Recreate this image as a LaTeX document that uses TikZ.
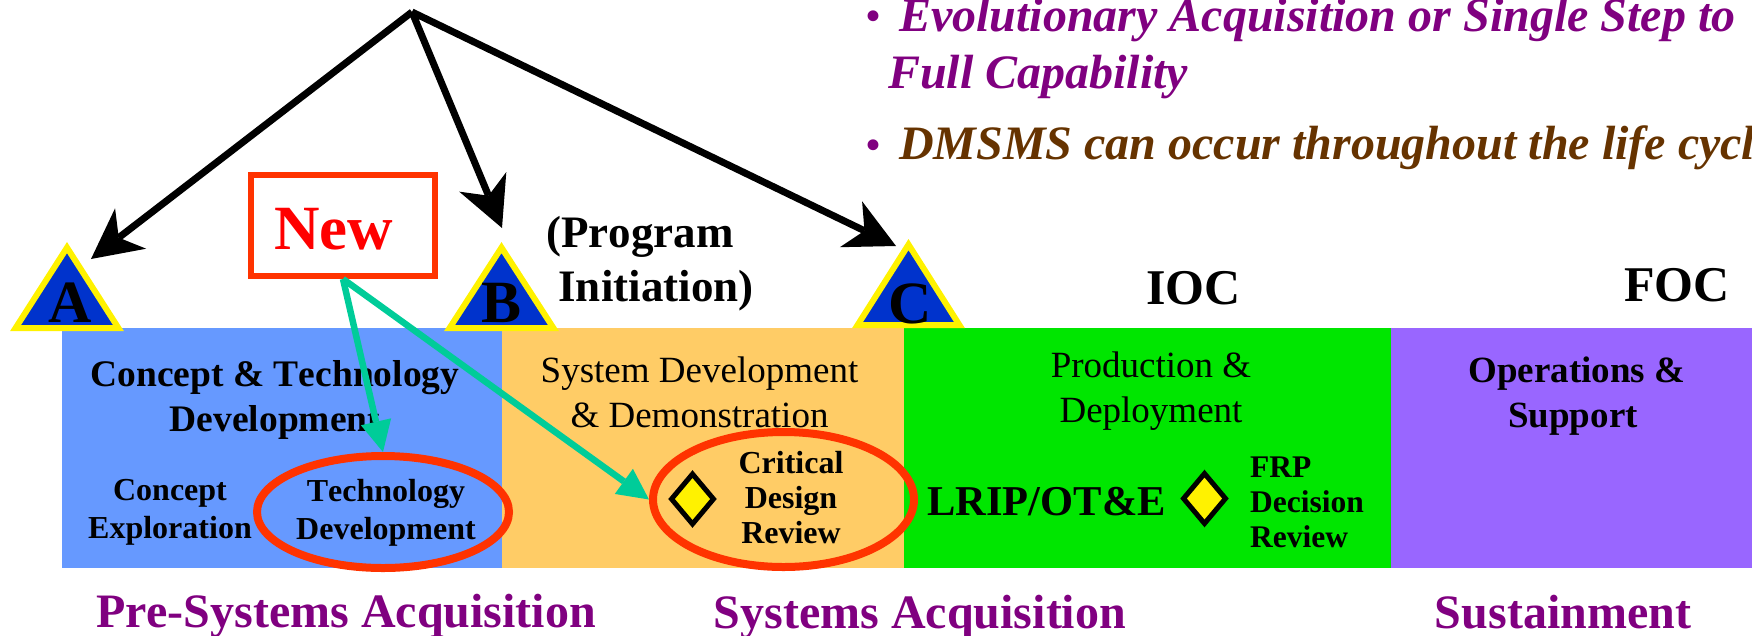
\documentclass[tikz,border=0pt]{standalone}
\usepackage{fontspec}
\setmainfont[Kerning=Off]{Liberation Serif}
\usetikzlibrary{arrows.meta,shapes.geometric}
\definecolor{cBlue}{HTML}{6699FF}
\definecolor{cOrange}{HTML}{FFCC66}
\definecolor{cGreen}{HTML}{00E600}
\definecolor{cViolet}{HTML}{9966FF}
\definecolor{cRed}{HTML}{FF3300}
\definecolor{cTeal}{HTML}{00CC99}
\definecolor{cPurple}{HTML}{800080}
\definecolor{cBrown}{HTML}{663300}
\definecolor{cTri}{HTML}{0033CC}
\newcommand{\sz}[2]{\fontsize{#1}{#2}\selectfont}
\tikzset{
  phase/.style={anchor=north west,inner sep=0pt,outer sep=0pt,fill=#1,minimum height=240pt},
  txt/.style={anchor=base,inner sep=0pt,outer sep=0pt,align=center},
  tri/.style={draw=yellow,fill=cTri,line width=6pt,miter limit=10},
  blackarrow/.style={line width=7pt,draw=black,-{Stealth[length=50pt,width=51pt,inset=15pt,line width=0pt]}},
  tealarrow/.style={line width=6.5pt,draw=cTeal,-{Triangle[length=31pt,width=31pt,line width=0pt]}},
  redring/.style={ellipse,draw=cRed,line width=8pt,inner sep=0pt},
  gem/.style={diamond,draw=black,fill=yellow,line width=5pt,inner sep=0pt,minimum width=44pt,minimum height=52pt}
}
\begin{document}
\begin{tikzpicture}[x=1pt,y=-1pt]
\useasboundingbox (0,0) rectangle (1752,635);
% phase bars
\node[phase=cBlue,minimum width=440pt] (p1) at (62,328) {};
\node[phase=cOrange,minimum width=402pt] (p2) at (502,328) {};
\node[phase=cGreen,minimum width=487pt] (p3) at (904,328) {};
\node[phase=cViolet,minimum width=361pt] (p4) at (1391,328) {};
% milestone triangles
\draw[tri] (67,247.6) -- (15.6,328) -- (118.4,328) -- cycle;
\draw[tri] (501.5,247.6) -- (449.6,328) -- (553.4,328) -- cycle;
\draw[tri] (908.5,244.6) -- (857.6,325) -- (959.4,325) -- cycle;
\node[txt,font=\sz{60}{60}\bfseries] (la) at (70,322) {A};
\node[txt,font=\sz{60}{60}\bfseries] (lb) at (502,322) {B};
\node[txt,font=\sz{60}{60}\bfseries] (lc) at (910,323) {C};
% top arrows
\coordinate (top) at (412,12);
\coordinate (tipA) at (91,259);
\coordinate (tipB) at (502,228);
\coordinate (tipC) at (896,246);
\draw[blackarrow] (top) -- (tipA);
\draw[blackarrow] (top) -- (tipB);
\draw[blackarrow] (top) -- (tipC);
% labels above bars
\node[txt,font=\sz{45}{45}\bfseries] (prog) at (640,247) {(Program};
\node[txt,font=\sz{45}{45}\bfseries] (init) at (656,301) {Initiation)};
\node[txt,font=\sz{50}{50}\bfseries] (ioc) at (1193.5,304) {IOC};
\node[txt,font=\sz{50}{50}\bfseries] (foc) at (1677,301) {FOC};
% phase text
\node[txt,font=\sz{37.5}{45}\bfseries] (ctd) at (275,431) {Concept \& Technology\\Development};
\node[txt,font=\sz{32}{38}\bfseries] (ce) at (170,538) {Concept\\Exploration};
\node[txt,font=\sz{32}{38}\bfseries] (td) at (386,539) {Technology\\Development};
\node[txt,font=\sz{37}{45}] (sdd) at (699.5,427) {System Development\\\& Demonstration};
\node[txt,font=\sz{32}{35}\bfseries] (cdr) at (791,543) {Critical\\Design\\Review};
\node[txt,font=\sz{37}{45}] (pd) at (1151,422) {Production \&\\Deployment};
\node[txt,font=\sz{42.5}{42}\bfseries] (lrip) at (1046.5,515) {LRIP/OT\&E};
\node[txt,font=\sz{31.5}{35}\bfseries,align=left] (frp) at (1307,547) {FRP\\Decision\\Review};
\node[txt,font=\sz{37}{45}\bfseries] (os) at (1577,427) {Operations \&\\Support\hspace*{8pt}};
% diamonds
\node[gem] (d1) at (692.5,499) {};
\node[gem] (d2) at (1204.5,498.5) {};
% rings and New box
\node[redring,minimum width=252pt,minimum height=112pt] (ringT) at (383,512) {};
\node[redring,minimum width=261pt,minimum height=135pt] (ringC) at (783.5,499.5) {};
\node[draw=cRed,fill=white,line width=6pt,inner sep=0pt,minimum width=184pt,minimum height=101pt] (new) at (343,225.5) {};
\node[txt,font=\sz{63}{63}\bfseries,text=red] (newl) at (333.5,249) {New};
\draw[tealarrow] (new.south) -- (ringT.north);
\draw[tealarrow] (new.south) -- (ringC.west);
% bottom labels
\node[txt,font=\sz{48}{48}\bfseries,text=cPurple] (b1) at (346,627) {Pre-Systems Acquisition};
\node[txt,font=\sz{48}{48}\bfseries,text=cPurple] (b2) at (920,628) {Systems Acquisition};
\node[txt,font=\sz{48}{48}\bfseries,text=cPurple] (b3) at (1563,628) {Sustainment};
% bullets
\node[txt,font=\sz{40}{40}\bfseries,text=cPurple] (bu1) at (873,29) {•};
\node[txt,font=\sz{40}{40}\bfseries,text=cPurple] (bu2) at (873,158) {•};
\node[anchor=base west,inner sep=0pt,font=\sz{48}{48}\bfseries\itshape,text=cPurple] (e1) at (899,31) {Evolutionary Acquisition or Single Step to};
\node[anchor=base west,inner sep=0pt,font=\sz{48}{48}\bfseries\itshape,text=cPurple] (e2) at (888,88) {Full Capability};
\node[anchor=base west,inner sep=0pt,font=\sz{48}{48}\bfseries\itshape,text=cBrown] (e3) at (899,159) {DMSMS can occur throughout the life cycl};
\end{tikzpicture}
\end{document}
